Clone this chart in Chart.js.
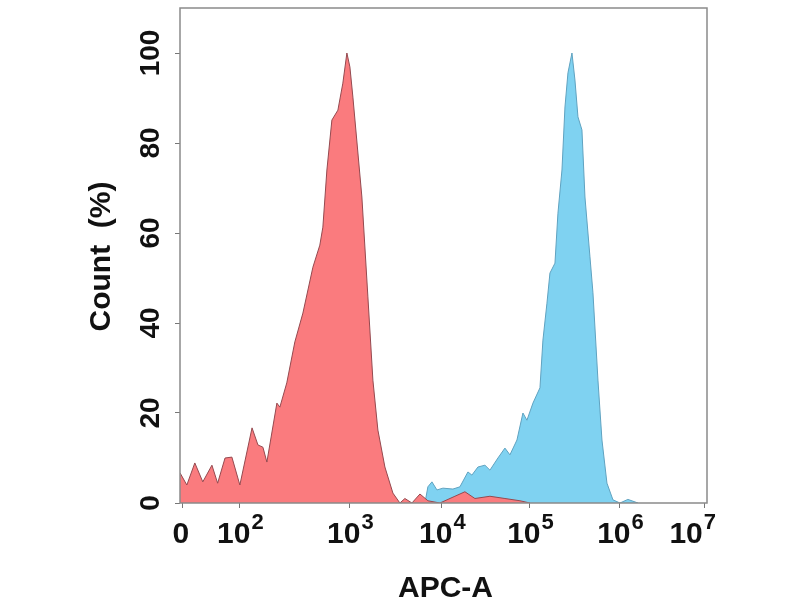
<!DOCTYPE html>
<html><head>
<meta charset="utf-8">
<title>APC-A histogram</title>
<script src="https://cdn.jsdelivr.net/npm/chart.js@4"></script>
<style>
html, body { margin: 0; padding: 0; background: #fff; }
#wrap { width: 800px; height: 600px; }
</style></head><body>
<div id="wrap"><canvas id="chart" width="800" height="600"></canvas></div>
<script>
// Red population (APC-A value, count %)
const RED_X = [-5, 7, 21, 35, 51, 61, 74, 86, 100, 129, 146, 162, 176, 217, 231, 267, 316, 374, 461, 533, 568, 618, 686, 778, 863, 939, 1000, 1078, 1350, 1569, 1778, 2015, 2401, 2934, 3494, 3960, 4720, 5770, 7040, 9510, 14050, 18250, 23710, 35120, 51980, 76980, 100000];
const RED_Y = [6.7, 4.0, 8.9, 4.7, 8.4, 4.4, 10.0, 10.2, 4.0, 16.7, 12.9, 12.4, 9.1, 22.2, 21.3, 26.7, 35.8, 42.2, 52.4, 57.3, 61.3, 74.0, 85.1, 87.3, 93.3, 100, 96.9, 90.2, 68.0, 45.8, 27.3, 16.2, 8.0, 2.2, 0, 1.0, 0, 2.0, 0.5, 0, 1.5, 2.5, 1.0, 1.5, 1.0, 0.5, 0];

// Blue population (APC-A value, count %)
const BLUE_X = [6540, 7040, 7790, 8830, 10270, 13340, 16020, 19750, 21920, 25650, 30800, 35120, 43290, 51980, 59250, 71180, 83250, 92450, 108000, 129200, 139400, 154500, 166800, 189600, 204700, 226800, 244900, 264400, 292900, 316200, 341500, 378200, 408400, 464200, 501200, 569500, 631000, 717000, 836100, 1000000, 1240000, 1630000];
const BLUE_Y = [0, 3.6, 4.7, 2.9, 3.3, 3.1, 3.6, 6.9, 6.2, 8.0, 8.4, 7.3, 10.0, 12.2, 10.7, 14.0, 20.0, 18.4, 22.2, 25.6, 36.2, 44.4, 51.1, 53.3, 64.4, 74.0, 88.0, 95.6, 100, 94.0, 85.8, 82.9, 68.0, 54.7, 46.7, 27.3, 14.0, 4.4, 0.7, 0, 0.8, 0];

const X_TICKS = [0, 100, 1000, 10000, 100000, 1000000, 10000000];
const X_TICK_EXP = [null, 2, 3, 4, 5, 6, 7];
const Y_TICKS = [0, 20, 40, 60, 80, 100];

// Display positions of the decade knots (biexponential-style axis), relative units
const KNOT_VAL = [0, 100, 1000, 10000, 100000, 1000000, 10000000];
const KNOT_POS = [0, 57, 167, 259, 347, 437, 522];

function toPos(v) {
  if (v <= KNOT_VAL[1]) return v / KNOT_VAL[1] * KNOT_POS[1];
  for (let i = 1; i < KNOT_VAL.length - 1; i++) {
    if (v <= KNOT_VAL[i + 1]) {
      const f = (Math.log10(v) - Math.log10(KNOT_VAL[i])) / (Math.log10(KNOT_VAL[i + 1]) - Math.log10(KNOT_VAL[i]));
      return KNOT_POS[i] + f * (KNOT_POS[i + 1] - KNOT_POS[i]);
    }
  }
  const n = KNOT_VAL.length - 1;
  const f = Math.log10(v) - Math.log10(KNOT_VAL[n]);
  return KNOT_POS[n] + f * (KNOT_POS[n] - KNOT_POS[n - 1]);
}

function fromPos(p) {
  if (p <= KNOT_POS[1]) return p / KNOT_POS[1] * KNOT_VAL[1];
  for (let i = 1; i < KNOT_POS.length - 1; i++) {
    if (p <= KNOT_POS[i + 1]) {
      const f = (p - KNOT_POS[i]) / (KNOT_POS[i + 1] - KNOT_POS[i]);
      return Math.pow(10, Math.log10(KNOT_VAL[i]) + f);
    }
  }
  const n = KNOT_POS.length - 1;
  return Math.pow(10, Math.log10(KNOT_VAL[n]) + (p - KNOT_POS[n]) / (KNOT_POS[n] - KNOT_POS[n - 1]));
}

class FlowScale extends Chart.LinearScale {
  determineDataLimits() {
    this.min = this.options.min;
    this.max = this.options.max;
  }
  buildTicks() {
    return X_TICKS.map(v => ({ value: v }));
  }
  getPixelForValue(value) {
    const a = toPos(this.min), b = toPos(this.max);
    return this.getPixelForDecimal((toPos(value) - a) / (b - a));
  }
  getValueForPixel(pixel) {
    const a = toPos(this.min), b = toPos(this.max);
    return fromPos(a + this.getDecimalForPixel(pixel) * (b - a));
  }
}
FlowScale.id = 'flow';
FlowScale.defaults = Chart.LinearScale.defaults;
Chart.register(FlowScale);

const FONT = '"Liberation Sans", Arial, sans-serif';

// tick labels, titles and frame drawn by hand (superscripts, rotated y labels)
const axisText = {
  id: 'axisText',
  afterDraw(chart) {
    const { ctx, chartArea: ca } = chart;
    const xs = chart.scales.x, ys = chart.scales.y;
    ctx.save();
    ctx.strokeStyle = '#8a8a8a';
    ctx.lineWidth = 1.5;
    ctx.strokeRect(ca.left, ca.top, ca.right - ca.left, ca.bottom - ca.top);

    ctx.fillStyle = '#111';
    ctx.textBaseline = 'alphabetic';
    X_TICKS.forEach((v, i) => {
      const px = xs.getPixelForValue(v);
      const exp = X_TICK_EXP[i];
      if (exp === null) {
        ctx.font = 'bold 30px ' + FONT;
        ctx.textAlign = 'center';
        ctx.fillText('0', px - 2, 543);
        return;
      }
      ctx.font = 'bold 30px ' + FONT;
      const wBase = ctx.measureText('10').width;
      ctx.font = 'bold 22px ' + FONT;
      const wExp = ctx.measureText(String(exp)).width;
      let left = px - (wBase + wExp) / 2;
      if (left + wBase + wExp > 715) left = 715 - wBase - wExp;
      ctx.textAlign = 'left';
      ctx.font = 'bold 30px ' + FONT;
      ctx.fillText('10', left, 543);
      ctx.font = 'bold 22px ' + FONT;
      ctx.fillText(String(exp), left + wBase + 1, 529);
    });

    ctx.font = 'bold 28px ' + FONT;
    ctx.textAlign = 'center';
    Y_TICKS.forEach(v => {
      const py = ys.getPixelForValue(v);
      ctx.save();
      ctx.translate(159, py);
      ctx.rotate(-Math.PI / 2);
      ctx.fillText(String(v), 0, 0);
      ctx.restore();
    });

    ctx.font = 'bold 30px ' + FONT;
    ctx.fillText('APC-A', (ca.left + ca.right) / 2 + 2, 597);
    ctx.save();
    ctx.translate(110, (ca.top + ca.bottom) / 2 + 1);
    ctx.rotate(-Math.PI / 2);
    ctx.fillText('Count  (%)', 0, 0);
    ctx.restore();
    ctx.restore();
  }
};

const toPoints = (xs, ys) => xs.map((x, i) => ({ x, y: ys[i] }));

new Chart(document.getElementById('chart'), {
  type: 'line',
  data: {
    datasets: [
      {
        label: 'Control',
        data: toPoints(RED_X, RED_Y),
        borderColor: '#94494f',
        backgroundColor: '#fa7b7e',
        borderWidth: 1,
        fill: 'origin',
        pointRadius: 0,
        tension: 0,
      },
      {
        label: 'Stained',
        data: toPoints(BLUE_X, BLUE_Y),
        borderColor: '#5fa2c0',
        backgroundColor: '#7fd2f1',
        borderWidth: 1,
        fill: 'origin',
        pointRadius: 0,
        tension: 0,
      },
    ],
  },
  options: {
    responsive: false,
    animation: false,
    layout: { padding: { left: 175, right: 93, top: 8, bottom: 92 } },
    plugins: { legend: { display: false }, tooltip: { enabled: false } },
    scales: {
      x: {
        type: 'flow',
        min: -5,
        max: 10560000,
        border: { display: false },
        grid: { drawOnChartArea: false, drawTicks: true, tickLength: 5, color: '#777' },
        ticks: { display: false },
      },
      y: {
        min: 0,
        max: 110,
        border: { display: false },
        grid: { drawOnChartArea: false, drawTicks: true, tickLength: 5, color: '#777' },
        ticks: { display: false, stepSize: 20, includeBounds: false },
      },
    },
  },
  plugins: [axisText],
});
</script></body></html>
